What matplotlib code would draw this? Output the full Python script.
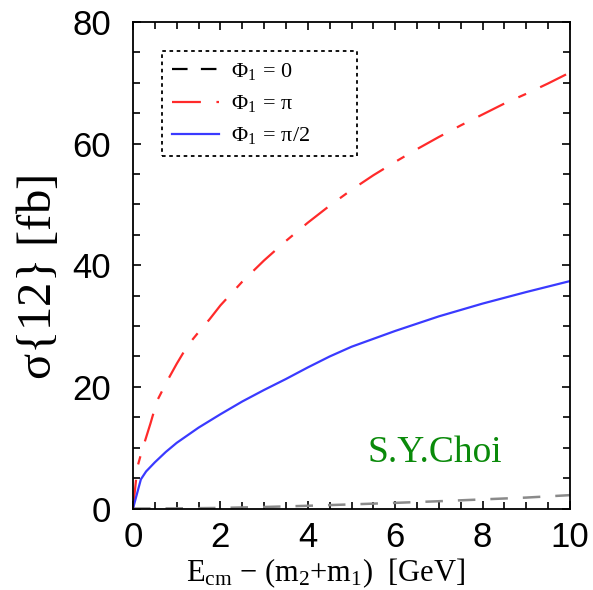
import matplotlib
matplotlib.use("Agg")
import matplotlib.pyplot as plt
from matplotlib.ticker import MultipleLocator
from matplotlib.lines import Line2D

# data
x_pi = [0, 0.1, 0.2, 0.4, 0.55, 0.8, 1.0, 1.25, 1.5, 1.75, 2.0, 2.5, 3.0, 3.5, 4.0,
        4.5, 5.0, 5.5, 6.0, 6.5, 7.0, 7.5, 8.0, 8.5, 9.0, 9.5, 10.0]
sig_pi = [0, 6.8, 9.4, 14.0, 17.7, 21.2, 23.8, 26.8, 29.0, 31.1, 33.4, 37.3, 40.8, 44.0, 47.0,
          49.8, 52.4, 54.8, 57.0, 59.1, 61.1, 63.0, 64.8, 66.6, 68.2, 69.9, 71.7]

x_pi2 = [0, 0.18, 0.3, 0.5, 0.75, 1.0, 1.5, 2.0, 2.5, 3.0, 3.5, 4.0, 4.5, 5.0,
         6.0, 7.0, 8.0, 9.0, 10.0]
sig_pi2 = [0, 4.8, 6.1, 7.6, 9.3, 10.8, 13.3, 15.5, 17.6, 19.5, 21.3, 23.2, 25.0, 26.6,
           29.2, 31.6, 33.7, 35.6, 37.4]

x_0 = [0, 1, 2, 3, 4, 5, 6, 7, 8, 9, 10]
sig_0 = [0, 0.02, 0.1, 0.25, 0.45, 0.68, 0.93, 1.2, 1.5, 1.8, 2.2]

labels = [r"$\Phi_1\,=\,0$", r"$\Phi_1\,=\,\pi$", r"$\Phi_1\,=\,\pi/2$"]
x_ticks = [0, 2, 4, 6, 8, 10]
y_ticks = [0, 20, 40, 60, 80]

plt.rcParams['mathtext.fontset'] = 'custom'
plt.rcParams['mathtext.rm'] = 'Liberation Serif'
plt.rcParams['mathtext.it'] = 'Liberation Serif'

fig = plt.figure(figsize=(5.93, 5.90), dpi=100)
ax = fig.add_axes([0.2243, 0.1381, 0.7369, 0.8246])

red_dash = (13, 7, 3.8, 7)
ax.plot(x_0, sig_0, color='#8a8a8a', lw=1.8, dashes=(7, 6))
ax.plot(x_pi, sig_pi, color='#ff2a2a', lw=1.6, dashes=red_dash)
ax.plot(x_pi2, sig_pi2, color='#3a3aff', lw=1.6)

ax.set_xlim(0, 10)
ax.set_ylim(0, 80)
ax.set_xticks(x_ticks)
ax.set_yticks(y_ticks)
ax.xaxis.set_minor_locator(MultipleLocator(0.5))
ax.yaxis.set_minor_locator(MultipleLocator(5))
ax.tick_params(which='both', direction='in', top=True, right=True, width=1.2)
ax.tick_params(which='major', length=6, labelsize=25)
ax.tick_params(which='minor', length=5)
ax.tick_params(axis='x', which='major', pad=9)
ax.tick_params(axis='y', which='major', pad=16)
for lab in ax.get_xticklabels() + ax.get_yticklabels():
    lab.set_family('Liberation Sans')
for s in ax.spines.values():
    s.set_linewidth(1.3)

ax.set_xlabel(r"E$_{\rm cm}$ $-$ (m$_2$+m$_1$)  [GeV]", family='Liberation Serif',
              fontsize=22)
ax.xaxis.set_label_coords(0.44, -0.098)
ax.set_ylabel(r"$\sigma\{12\}$ [fb]", family='Liberation Serif', fontsize=35)
ax.yaxis.set_label_coords(-0.165, 0.475)

ax.text(0.691, 0.095, "S.Y.Choi", transform=ax.transAxes, color='#0a8a0a',
        family='Liberation Serif', fontsize=27, ha='center', va='baseline')

handles = [Line2D([], [], color='black', lw=1.6, dashes=(7, 6)),
           Line2D([], [], color='#ff2a2a', lw=1.6, dashes=red_dash),
           Line2D([], [], color='#3a3aff', lw=1.6)]
leg = ax.legend(handles, labels, loc='upper left', bbox_to_anchor=(0.066, 0.5, 0.446, 0.44),
                mode='expand', borderaxespad=0, fancybox=False, framealpha=1,
                edgecolor='black', prop={'family': 'Liberation Serif', 'size': 16},
                handlelength=2.1, handletextpad=0.55, labelspacing=0.5, borderpad=0.45)
leg.get_frame().set_linestyle((0, (2, 2)))
leg.get_frame().set_linewidth(1.3)

fig.savefig("out.png", dpi=100)
